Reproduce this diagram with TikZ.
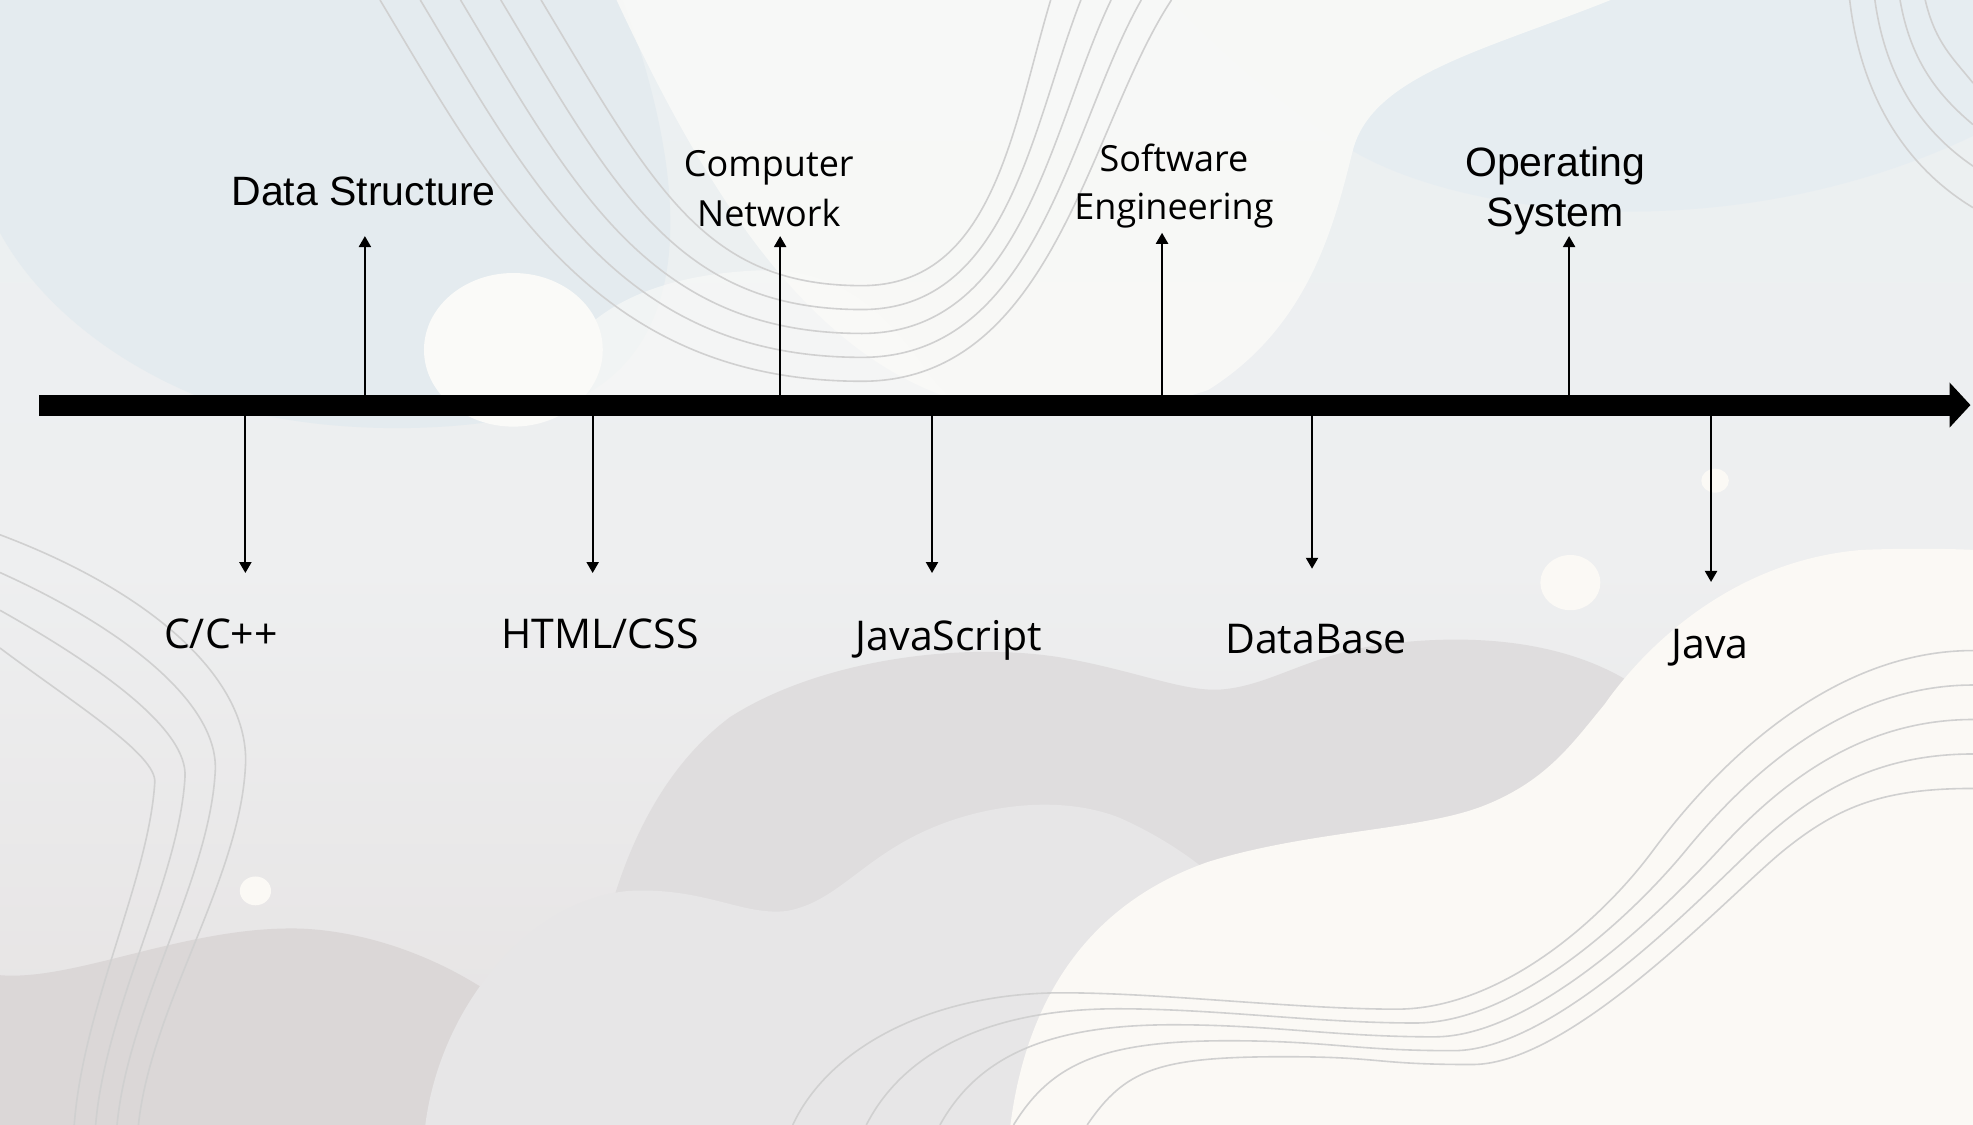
\documentclass[tikz,border=0pt]{standalone}
\usepackage{fontspec}
\newfontfamily\arialf{Liberation Sans}
\newfontfamily\segf{Open Sans}
\usetikzlibrary{arrows.meta}
\definecolor{bgtop}{HTML}{EBF0F2}
\definecolor{bgmid}{HTML}{EEEFF0}
\definecolor{bgbot}{HTML}{E5E2E2}
\definecolor{blueblob}{HTML}{E4EBEF}
\definecolor{blueblobb}{HTML}{E6EDF1}
\definecolor{whiteblob}{HTML}{FAFAF8}
\definecolor{creamblob}{HTML}{FBF9F5}
\definecolor{grayblob}{HTML}{DFDDDE}
\definecolor{lightgrayblob}{HTML}{E7E6E7}
\definecolor{darkblob}{HTML}{DBD7D7}
\definecolor{waveline}{HTML}{D0D0D0}
\tikzset{
  wave/.style={draw=waveline, line width=0.8pt},
  axisline/.style={line width=10.5pt, -{Triangle[width=22pt,length=10.5pt]}},
  tickarrow/.style={line width=1.1pt, -{Triangle[width=6pt,length=5.5pt]}},
  arlabel/.style={font=\arialf\fontsize{20.5}{25}\selectfont, anchor=base, align=center, inner sep=0pt},
  oslabel/.style={font=\segf\fontsize{18}{25}\selectfont, anchor=base, align=center, inner sep=0pt},
  botlabel/.style={font=\segf\fontsize{20.5}{25}\selectfont, anchor=base, inner sep=0pt},
}
\begin{document}
\begin{tikzpicture}[x=0.62915pt,y=-0.62915pt]
\useasboundingbox (0,0) rectangle (1568,894);
% base
\shade[top color=bgtop, bottom color=bgbot, middle color=bgmid] (0,0) rectangle (1568,894);
% top-right blue blob
\fill[blueblobb] (930,0) -- (1568,0) -- (1568,108) .. controls (1480,150) and (1380,170) .. (1280,168)
  .. controls (1180,165) and (1100,140) .. (1060,110) .. controls (1000,70) and (960,30) .. (930,0) -- cycle;
% top-left blue blob
\fill[blueblob] (0,0) -- (495,0) .. controls (550,150) and (560,300) .. (420,330)
  .. controls (350,345) and (250,345) .. (170,320) .. controls (90,290) and (30,240) .. (0,185) -- cycle;
% white V region
\fill[whiteblob, fill opacity=0.85] (490,0) .. controls (560,150) and (640,280) .. (760,318)
  .. controls (830,335) and (900,330) .. (960,310) .. controls (1040,260) and (1060,180) .. (1075,120)
  .. controls (1090,60) and (1180,40) .. (1280,0) -- cycle;
% light blob behind circle
\fill[whiteblob, fill opacity=0.6] (430,330) .. controls (440,260) and (500,220) .. (600,215)
  .. controls (660,212) and (700,240) .. (740,300) -- (760,322) -- (430,322) -- cycle;
% big circle
\fill[whiteblob] (408,278) ellipse [x radius=44.7pt, y radius=38.4pt];
% bottom-left dark blob
\fill[darkblob] (0,775) .. controls (60,780) and (150,735) .. (240,738) .. controls (330,742) and (440,800) .. (480,894) -- (0,894) -- cycle;
% gray blob
\fill[grayblob] (462,894) .. controls (465,750) and (500,630) .. (580,570) .. controls (650,525) and (760,510) .. (840,522)
  .. controls (900,532) and (940,550) .. (970,548) .. controls (1010,545) and (1040,520) .. (1100,512)
  .. controls (1180,502) and (1250,512) .. (1300,545) -- (1400,894) -- cycle;
% light gray blob
\fill[lightgrayblob] (338,894) .. controls (350,800) and (420,715) .. (500,708) .. controls (560,705) and (590,728) .. (625,724)
  .. controls (660,718) and (680,690) .. (720,668) .. controls (770,640) and (840,630) .. (890,650)
  .. controls (930,668) and (960,690) .. (990,720) -- (990,894) -- cycle;
% cream blob
\fill[creamblob] (803,894) .. controls (815,800) and (860,720) .. (960,685) .. controls (1040,660) and (1130,660) .. (1180,640)
  .. controls (1230,620) and (1250,590) .. (1275,560) .. controls (1310,510) and (1380,445) .. (1480,437)
  .. controls (1530,435) and (1568,437) .. (1568,437) -- (1568,894) -- cycle;
% small circles
\fill[creamblob] (1248,463) ellipse [x radius=15pt, y radius=13.8pt];
\fill[creamblob] (1363,382) ellipse [x radius=6.9pt, y radius=6pt];
\fill[creamblob] (203,708) ellipse [x radius=7.8pt, y radius=7.2pt];
% wavy bundles
\foreach \i in {0,...,4}
  \draw[wave] ({430-32*\i},0) .. controls ({520-32*\i},150) and ({560-22*\i},{227+19*\i}) .. (685,{227+19*\i})
    .. controls ({790+12*\i},{227+19*\i}) and ({805+15*\i},100) .. ({835+24*\i},0);
\foreach \j in {0,...,3}
  \draw[wave] (0,{425+30*\j}) .. controls ({120-20*\j},{470+30*\j}) and ({200-25*\j},{540+20*\j}) .. ({195-24*\j},{610+4*\j})
    .. controls ({190-24*\j},700) and ({120-18*\j},800) .. ({110-17*\j},894);
\foreach \k in {0,...,4}
  \draw[wave] ({630+58.5*\k},894) .. controls ({660+58.5*\k},{830+5*\k}) and ({744+44*\k},{789+12.7*\k}) .. ({844+44*\k},{789+12.7*\k})
    .. controls ({924+44*\k},{789+12.7*\k}) and ({1030+15*\k},{802+11*\k}) .. ({1110+15*\k},{802+11*\k})
    .. controls ({1190+15*\k},{802+11*\k}) and ({1270+26*\k},{735-6*\k}) .. ({1314+26*\k},675.5)
    .. controls ({1358+26*\k},{616+6*\k}) and ({1450+12*\k},{517+27.4*\k}) .. (1568,{517+27.4*\k});
\foreach \m in {0,...,3}
  \draw[wave] ({1470+20*\m},0) .. controls ({1478+20*\m},{70-12*\m}) and ({1510+14*\m},{130-28*\m}) .. (1568,{165-33*\m});
% axis
\coordinate (axs) at (31,321.9);
\coordinate (axe) at (1566,321.9);
\draw[axisline] (axs) -- (axe);
% labels
\node[arlabel] (ds) at (289,163.7) {Data Structure};
\node[oslabel] (cn) at (611,180.2) {Computer\\Network};
\node[oslabel, font=\segf\fontsize{18}{24}\selectfont] (se) at (933,174.8) {Software\\Engineering};
\node[arlabel] (os) at (1236,180.2) {Operating\\System};
\node[botlabel] (cpp) at (175.6,515) {C/C++};
\node[botlabel] (html) at (476.8,515) {HTML/CSS};
\node[botlabel] (js) at (754,516.6) {JavaScript};
\node[botlabel] (db) at (1045.9,519) {DataBase};
\node[botlabel] (java) at (1359,523) {Java};
% tick coordinates
\coordinate (dsb) at (290,314); \coordinate (dst) at (290,187.6);
\coordinate (cnb) at (620,314); \coordinate (cnt) at (620,187.6);
\coordinate (seb) at (923.5,314); \coordinate (set) at (923.5,185);
\coordinate (osb) at (1247,314); \coordinate (ost) at (1247,187.6);
\coordinate (cppb) at (195,329.5); \coordinate (cppt) at (195,455.4);
\coordinate (htmlb) at (471,329.5); \coordinate (htmlt) at (471,455.4);
\coordinate (jsb) at (740.7,329.5); \coordinate (jst) at (740.7,455.4);
\coordinate (dbb) at (1042.7,329.5); \coordinate (dbt) at (1042.7,452);
\coordinate (javab) at (1359.8,329.5); \coordinate (javat) at (1359.8,462.5);
\draw[tickarrow] (dsb) -- (dst);
\draw[tickarrow] (cnb) -- (cnt);
\draw[tickarrow] (seb) -- (set);
\draw[tickarrow] (osb) -- (ost);
\draw[tickarrow] (cppb) -- (cppt);
\draw[tickarrow] (htmlb) -- (htmlt);
\draw[tickarrow] (jsb) -- (jst);
\draw[tickarrow] (dbb) -- (dbt);
\draw[tickarrow] (javab) -- (javat);
\end{tikzpicture}
\end{document}
